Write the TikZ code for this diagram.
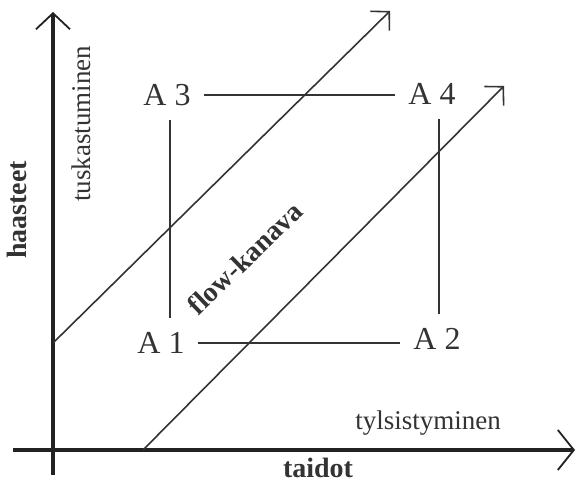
\documentclass[tikz,border=0pt]{standalone}
\usepackage{fontspec}
\setmainfont{Liberation Serif}
\usetikzlibrary{arrows.meta,calc}
\definecolor{ink}{HTML}{333333}
\definecolor{axisink}{HTML}{222222}
\begin{document}
\begin{tikzpicture}[x=1pt,y=1pt,
  axis/.style={draw=axisink, line width=3.2pt},
  diag/.style={draw=ink, line width=1.6pt, -{Straight Barb[length=13pt,width=27pt,line width=1.6pt]}},
  link/.style={draw=ink, line width=1.4pt},
  alabel/.style={font=\fontsize{32}{32}\selectfont, text=ink, inner xsep=13pt, inner ysep=14pt, text height=21pt, text depth=0pt},
  lab/.style={font=\fontsize{27}{27}\selectfont, text=ink, inner sep=0pt},
  blab/.style={font=\bfseries\fontsize{28}{28}\selectfont, text=ink, inner sep=0pt}]
\useasboundingbox (0,0) rectangle (576,482);
% axes
\coordinate (vb) at (53,7);
\coordinate (vt) at (53,470);
\coordinate (hl) at (13,32);
\coordinate (hr) at (575,32);
\draw[axis, -{Straight Barb[length=16pt,width=34pt,line width=1.8pt]}] (vb) -- (vt);
\draw[axis, -{Straight Barb[length=16pt,width=40pt,line width=1.8pt]}] (hl) -- (hr);
% flow channel boundaries
\coordinate (d1s) at (53,139);
\coordinate (d1e) at (390,471);
\coordinate (d2s) at (143,32);
\coordinate (d2e) at (504,396);
\draw[diag] (d1s) -- (d1e);
\draw[diag] (d2s) -- (d2e);
% A labels
\node[alabel] (A3) at (167,387) {A 3};
\node[alabel] (A4) at (432,388) {A 4};
\node[alabel] (A1) at (161,139) {A 1};
\node[alabel] (A2) at (437,143) {A 2};
\draw[link] (A3.east) -- (A3.east -| A4.west);
\draw[link] (A1.east) -- (A1.east -| A2.west);
\draw[link] ([xshift=3pt]A3.south) -- ([xshift=3pt]A3.south |- A1.north);
\draw[link] ([xshift=7pt]A4.south) -- ([xshift=7pt]A4.south |- A2.north);
% texts
\node[lab, rotate=90] (tusk) at (81,358) {tuskastuminen};
\node[blab, rotate=90] (haas) at (17,272) {haasteet};
\node[blab, anchor=base] (taid) at (318,4) {taidot};
\node[lab, anchor=base] (tyls) at (428,52) {tylsistyminen};
\node[blab, rotate=44] (flow) at (245,224) {flow-kanava};
\end{tikzpicture}
\end{document}
